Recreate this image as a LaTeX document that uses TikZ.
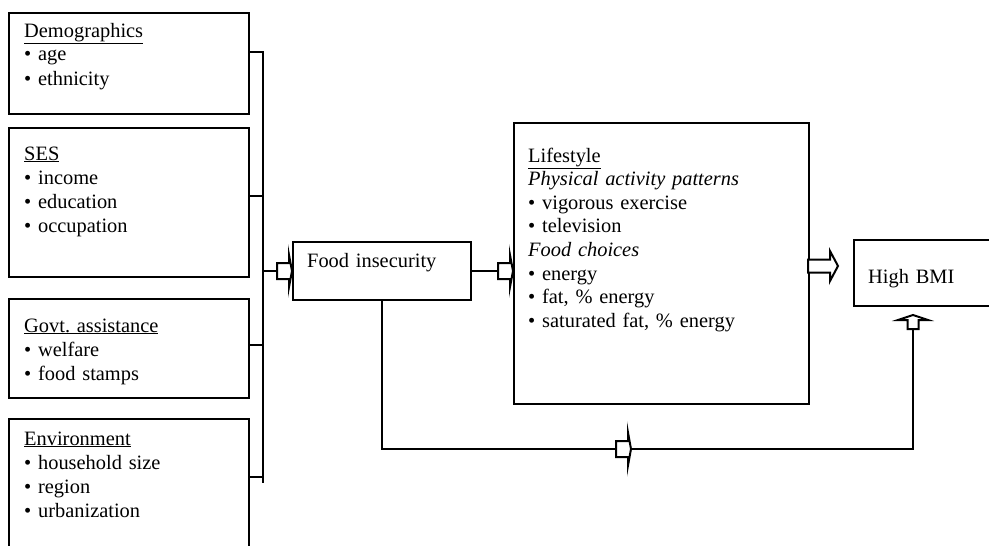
\documentclass[tikz,border=0pt]{standalone}
\usepackage{fontspec}
\setmainfont{Liberation Serif}
\usetikzlibrary{positioning, calc}

\tikzset{
  box/.style={draw, line width=2pt, anchor=north west, inner sep=0pt},
  txt/.style={anchor=base west, inner sep=0pt, align=left, text width=250pt,
    font=\fontsize{20.4}{24}\selectfont},
  wire/.style={line width=2pt},
  % hollow block arrow: total length, head length, shaft half width, head half width
  pics/hollow/.style n args={4}{code={
    \draw[line width=2pt, fill=white, miter limit=25]
      (-#1,-#3) -- (-#2,-#3) -- (-#2,-#4) -- (0,0) -- (-#2,#4) -- (-#2,#3) -- (-#1,#3) -- cycle;
  }}
}

\begin{document}
\begin{tikzpicture}[x=1pt, y=-1pt]
\useasboundingbox (0,0) rectangle (989,546);

% Background factors
\node[box, minimum width=240pt, minimum height=101pt] (demo) at (8,12) {};
\node[txt] (demotxt) at (24,37) {\underline{Demographics}\\\textbullet\ age\\\textbullet\ ethnicity};

\node[box, minimum width=240pt, minimum height=149pt] (ses) at (8,127) {};
\node[txt] (sestxt) at (24,160) {\underline{SES}\\\textbullet\ income\\\textbullet\ education\\\textbullet\ occupation};

\node[box, minimum width=240pt, minimum height=99pt] (govt) at (8,298) {};
\node[txt] (govttxt) at (24,332) {\underline{Govt.\ assistance}\\\textbullet\ welfare\\\textbullet\ food stamps};

\node[box, minimum width=240pt, minimum height=142pt] (env) at (8,418) {};
\node[txt] (envtxt) at (24,445) {\underline{Environment}\\\textbullet\ household size\\\textbullet\ region\\\textbullet\ urbanization};

% Mediator and lifestyle
\node[box, minimum width=178pt, minimum height=58pt] (fi) at (292,241) {};
\node[txt] (fitxt) at (307,267) {Food insecurity};

\node[box, minimum width=295pt, minimum height=281pt] (life) at (513,122) {};
\node[txt, font=\fontsize{20.4}{23.66}\selectfont] (lifetxt) at (528,162)
  {\underline{Lifestyle}\\\textit{Physical activity patterns}\\\textbullet\ vigorous exercise\\\textbullet\ television\\
   \textit{Food choices}\\\textbullet\ energy\\\textbullet\ fat, \% energy\\\textbullet\ saturated fat, \% energy};

% Outcome
\node[box, minimum width=150pt, minimum height=66pt] (bmi) at (853,239) {};
\node[txt] (bmitxt) at (868,283) {High BMI};

% Bracket joining the factors
\coordinate (j1) at (263,52);
\coordinate (j2) at (263,196);
\coordinate (j3) at (263,345);
\coordinate (j4) at (263,477);
\coordinate (jend) at (263,483);
\draw[wire] (demo.east |- j1) -- (j1) -- (jend);
\draw[wire] (ses.east |- j2) -- (j2);
\draw[wire] (govt.east |- j3) -- (j3);
\draw[wire] (env.east |- j4) -- (j4);

% Arrows
\draw[wire, shorten >=15pt] (fi.west -| j1) -- (fi.west);
\pic at (fi.west) {hollow={15}{3}{8}{16}};
\draw[wire, shorten >=15pt] (fi.east) -- (fi.east -| life.west);
\pic at (fi.east -| life.west) {hollow={15}{3}{8}{16}};
\coordinate (bmitip) at (838,266);
\pic at (bmitip) {hollow={30}{8}{6.5}{15}};
\coordinate (mid) at (631,449);
\draw[wire, shorten >=15pt] (fi.south) |- (mid);
\pic at (mid) {hollow={15}{3}{8}{16.5}};
\coordinate (uptip) at ([xshift=60pt,yshift=-8pt]bmi.south west);
\draw[wire, shorten >=14pt] (mid) -| (uptip);
\pic[rotate=90] at (uptip) {hollow={14}{5}{5.5}{15}};
\end{tikzpicture}
\end{document}
